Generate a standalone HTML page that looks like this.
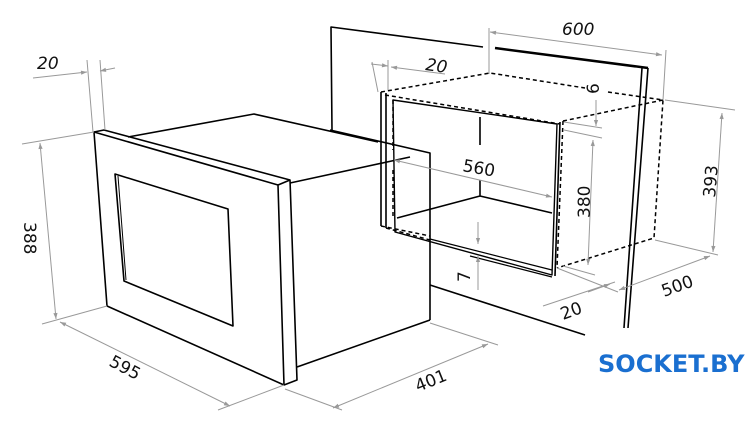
<!DOCTYPE html>
<html><head><meta charset="utf-8"><style>
html,body{margin:0;padding:0;background:#fff;width:756px;height:432px;overflow:hidden}
text{font-family:"DejaVu Sans","Liberation Sans",sans-serif;font-size:17px;fill:#111}
</style></head><body>
<svg width="756" height="432" viewBox="0 0 756 432" xmlns="http://www.w3.org/2000/svg">
<defs><marker id="a" viewBox="0 0 10 10" refX="10" refY="5" markerWidth="9" markerHeight="6" orient="auto-start-reverse"><path d="M0,1.5L10,5L0,8.5z" fill="#999"/></marker></defs>
<g fill="none" stroke="#000" stroke-width="1.6" stroke-linejoin="round">
<path d="M332,130 L331,27 L483,47"/>
<path d="M495,48 L648,68" stroke-width="2.5"/>
<path d="M648,68 L628,328 M642,68 L624,328"/>
<path d="M128,137 L254,114 L378,142"/>
<path d="M330,130 L430,153 L430,320"/>
<path d="M290,183 L410,157"/>
<path d="M297,367 L430,320"/>
<path d="M430,285 L585,335"/>
<path d="M94,132 L104,130 L290,180 L297,380 L284,385 L107,306 Z"/>
<path d="M94,132 L278,185 L284,385 M278,185 L290,180"/>
<path d="M115,174 L228,209 L233,326 L124,281 Z"/>
<path d="M118,176 L126,280" stroke-width="1"/>
<path d="M381,92 L381,226 M386,93 L386,228"/>
<path d="M393,100 L557,124 L552,275 L395,232 Z" stroke-width="1.4"/>
<path d="M560,122 L555,276"/>
<path d="M480,117 L480,145 M480,180 L480,196 L397,218 M480,196 L552,213"/>
<path d="M430,239 L552,270 M470,256 L552,277" stroke-width="1.2"/>
</g>
<g fill="none" stroke="#000" stroke-width="1.5" stroke-dasharray="4,3">
<path d="M381,92 L490,73 L585,88 M608,92 L663,100 L654,238 L557,268"/>
<path d="M563,121 L663,100"/>
<path d="M563,121 L557,268"/>
<path d="M385,95 L560,124"/>
<path d="M381,226 L430,236 M386,228 L430,240"/>
<path d="M393,100 L393,150 M393,170 L393,218"/>
</g>
<g fill="none" stroke="#999" stroke-width="1">
<path d="M87,60 L93,132 M100,60 L105,130"/>
<path d="M33,78 L87,72" marker-end="url(#a)"/><path d="M115,68 L100,71" marker-end="url(#a)"/>
<path d="M22,144 L94,132 M42,324 L107,306"/>
<path d="M40,143 L56,319" marker-start="url(#a)" marker-end="url(#a)"/>
<path d="M60,322 L230,406" marker-start="url(#a)" marker-end="url(#a)"/>
<path d="M218,410 L284,385 M285,389 L342,410 M430,323 L498,345"/>
<path d="M333,408 L488,344" marker-start="url(#a)" marker-end="url(#a)"/>
<path d="M489,28 L489,74 M666,50 L663,100"/>
<path d="M490,32 L662,55" marker-start="url(#a)" marker-end="url(#a)"/>
<path d="M372,62 L378,92 M388,60 L388,90"/>
<path d="M371,64 L388,66" marker-end="url(#a)"/><path d="M445,74 L391,67" marker-end="url(#a)"/>
<path d="M394,160 L552,197" marker-start="url(#a)" marker-end="url(#a)"/>
<path d="M596,100 L596,126" marker-end="url(#a)"/>
<path d="M564,122 L602,128 M564,130 L602,138"/>
<path d="M593,140 L588,265" marker-start="url(#a)" marker-end="url(#a)"/>
<path d="M563,266 L595,275"/>
<path d="M478,222 L478,244" marker-end="url(#a)"/><path d="M478,290 L478,256" marker-end="url(#a)"/>
<path d="M665,100 L735,110 M655,240 L718,255"/>
<path d="M722,113 L713,252" marker-start="url(#a)" marker-end="url(#a)"/>
<path d="M619,290 L710,256" marker-start="url(#a)" marker-end="url(#a)"/>
<path d="M557,268 L618,292"/>
<path d="M543,306 L615,282 M588,292 L610,284" marker-end="url(#a)"/>
</g>
<g>
<text x="37" y="69" font-style="italic">20</text>
<text transform="translate(24,222) rotate(90)" x="0" y="0">388</text>
<text transform="translate(108,365) rotate(28)">595</text>
<text transform="translate(418,392) rotate(-22)">401</text>
<text x="562" y="35" font-style="italic">600</text>
<text transform="translate(425,70) rotate(8)" font-style="italic">20</text>
<text transform="translate(462,171) rotate(10)">560</text>
<text transform="translate(599,94) rotate(-90)">6</text>
<text transform="translate(590,218) rotate(-90)">380</text>
<text transform="translate(470,282) rotate(-90)">7</text>
<text transform="translate(715,198) rotate(-85)">393</text>
<text transform="translate(664,297) rotate(-20)">500</text>
<text transform="translate(563,320) rotate(-20)">20</text>
<text x="598" y="372" style="font-family:'DejaVu Sans','Liberation Sans',sans-serif;font-weight:bold;font-size:24px;fill:#1a6fd0">SOCKET.BY</text>
</g>
</svg>
</body></html>
